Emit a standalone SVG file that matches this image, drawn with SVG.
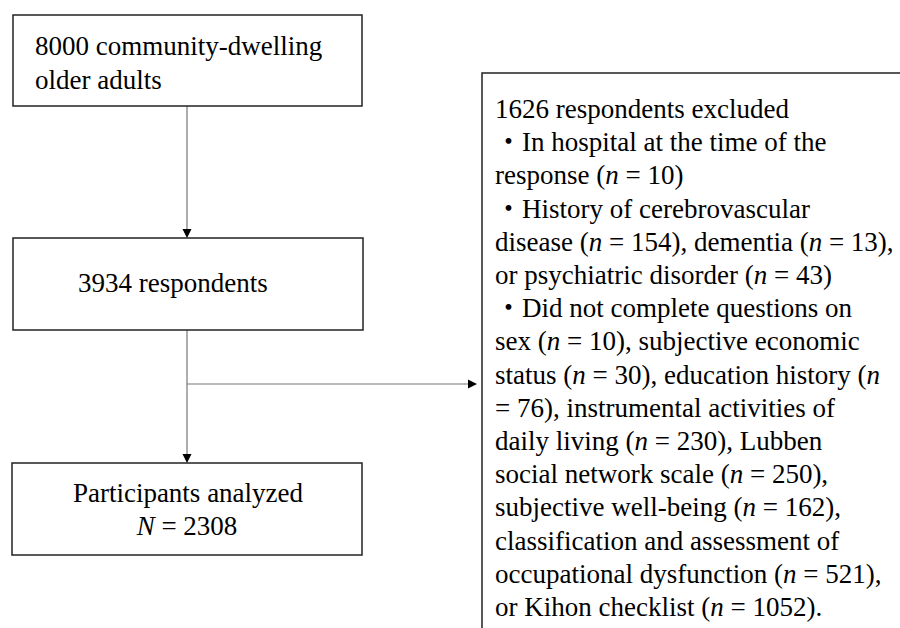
<svg xmlns="http://www.w3.org/2000/svg" width="900" height="628" viewBox="0 0 900 628">
<rect width="900" height="628" fill="#fff"/>
<g id="connectors">
<path d="M187,106 V229 M187,330 V454 M187,384 H468" fill="none" stroke="#777" stroke-width="1.2"/>
<path d="M182.5,229 L191.5,229 L187,238 Z M182.5,454 L191.5,454 L187,463 Z M468,379.5 L468,388.5 L477,384 Z" fill="#000"/>
</g>
<g id="n1">
<rect x="13" y="15" width="349" height="91" fill="#fff" stroke="#222" stroke-width="1.5"/>
<text x="35" y="55" font-family="Liberation Serif, serif" font-size="27">8000 community-dwelling</text>
<text x="35" y="89" font-family="Liberation Serif, serif" font-size="27">older adults</text>
</g>
<g id="n2">
<rect x="13" y="238" width="350" height="92" fill="#fff" stroke="#222" stroke-width="1.5"/>
<text x="78" y="292" font-family="Liberation Serif, serif" font-size="27">3934 respondents</text>
</g>
<g id="n3">
<rect x="12" y="463" width="350" height="92" fill="#fff" stroke="#222" stroke-width="1.5"/>
<text x="188" y="502" text-anchor="middle" font-family="Liberation Serif, serif" font-size="27">Participants analyzed</text>
<text x="187" y="535" text-anchor="middle" font-family="Liberation Serif, serif" font-size="27"><tspan font-style="italic">N</tspan> = 2308</text>
</g>
<g id="n4">
<path d="M905,73 H482 V635" fill="#fff" stroke="#222" stroke-width="1.5"/>
<text x="495" y="118" font-family="Liberation Serif, serif" font-size="27">1626 respondents excluded</text>
<text x="495" y="151.2" font-family="Liberation Serif, Noto Sans CJK JP, serif" font-size="27">・In hospital at the time of the</text>
<text x="495" y="184.4" font-family="Liberation Serif, serif" font-size="27">response (<tspan font-style="italic">n</tspan> = 10)</text>
<text x="495" y="217.6" font-family="Liberation Serif, Noto Sans CJK JP, serif" font-size="27">・History of cerebrovascular</text>
<text x="495" y="250.8" font-family="Liberation Serif, serif" font-size="27">disease (<tspan font-style="italic">n</tspan> = 154), dementia (<tspan font-style="italic">n</tspan> = 13),</text>
<text x="495" y="284" font-family="Liberation Serif, serif" font-size="27">or psychiatric disorder (<tspan font-style="italic">n</tspan> = 43)</text>
<text x="495" y="317.2" font-family="Liberation Serif, Noto Sans CJK JP, serif" font-size="27">・Did not complete questions on</text>
<text x="495" y="350.4" font-family="Liberation Serif, serif" font-size="27">sex (<tspan font-style="italic">n</tspan> = 10), subjective economic</text>
<text x="495" y="383.6" font-family="Liberation Serif, serif" font-size="27">status (<tspan font-style="italic">n</tspan> = 30), education history (<tspan font-style="italic">n</tspan></text>
<text x="495" y="416.8" font-family="Liberation Serif, serif" font-size="27">= 76), instrumental activities of</text>
<text x="495" y="450" font-family="Liberation Serif, serif" font-size="27">daily living (<tspan font-style="italic">n</tspan> = 230), Lubben</text>
<text x="495" y="483.2" font-family="Liberation Serif, serif" font-size="27">social network scale (<tspan font-style="italic">n</tspan> = 250),</text>
<text x="495" y="516.4" font-family="Liberation Serif, serif" font-size="27">subjective well-being (<tspan font-style="italic">n</tspan> = 162),</text>
<text x="495" y="549.6" font-family="Liberation Serif, serif" font-size="27">classification and assessment of</text>
<text x="495" y="582.8" font-family="Liberation Serif, serif" font-size="27">occupational dysfunction (<tspan font-style="italic">n</tspan> = 521),</text>
<text x="495" y="616" font-family="Liberation Serif, serif" font-size="27">or Kihon checklist (<tspan font-style="italic">n</tspan> = 1052).</text>
</g>
</svg>
